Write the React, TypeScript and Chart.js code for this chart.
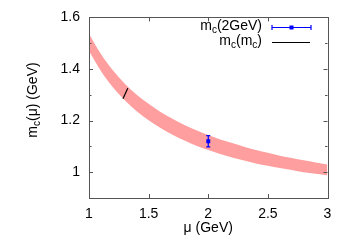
import React, { useEffect, useRef } from 'react';
import { Chart, registerables } from 'chart.js';

Chart.register(...registerables);

// ---- data ----
const muGrid = [1.0, 1.1, 1.2, 1.3, 1.4, 1.5, 1.6, 1.7, 1.8, 1.9, 2.0, 2.1, 2.2, 2.3, 2.4, 2.5, 2.6, 2.7, 2.8, 2.9, 3.0];
const bandUpper = [1.536, 1.458, 1.395, 1.343, 1.300, 1.265, 1.233, 1.207, 1.183, 1.163, 1.144, 1.127, 1.113, 1.099, 1.086, 1.075, 1.064, 1.055, 1.046, 1.038, 1.030];
const bandLower = [1.470, 1.392, 1.329, 1.279, 1.236, 1.201, 1.171, 1.145, 1.123, 1.103, 1.086, 1.071, 1.057, 1.045, 1.034, 1.025, 1.016, 1.009, 1.000, 0.994, 0.988];
const mc2GeVMu = [2.0];
const mc2GeVValue = [1.12];
const mc2GeVErr = [0.022];
const mcmcMu = [1.285, 1.325];
const mcmcValue = [1.285, 1.325];
const xTicks = [1, 1.5, 2, 2.5, 3];
const yMajorTicks = [1, 1.2, 1.4, 1.6];
const yMinorTicks = [1.1, 1.3, 1.5];
const legendLabels = [
  [['m', false], ['c', true], ['(2GeV)', false]],
  [['m', false], ['c', true], ['(m', false], ['c', true], [')', false]],
] as [string, boolean][][];
const xTitle = [['μ (GeV)', false]] as [string, boolean][];
const yTitle = [['m', false], ['c', true], ['(μ) (GeV)', false]] as [string, boolean][];

const FAMILY = '"Liberation Sans", Arial, sans-serif';
const MAIN_FONT = `14px ${FAMILY}`;
const SUB_FONT = `10px ${FAMILY}`;
const BAND_COLOR = 'rgb(255,158,158)';
const BLUE = 'rgb(0,0,255)';
const FRAME = '#555';

function richWidth(ctx: CanvasRenderingContext2D, parts: [string, boolean][]) {
  let w = 0;
  for (const [t, sub] of parts) {
    ctx.font = sub ? SUB_FONT : MAIN_FONT;
    w += ctx.measureText(t).width;
  }
  return w;
}

function drawRich(ctx: CanvasRenderingContext2D, parts: [string, boolean][], x: number, y: number, align: 'left' | 'center' | 'right') {
  const w = richWidth(ctx, parts);
  let cx = align === 'left' ? x : align === 'center' ? x - w / 2 : x - w;
  ctx.textAlign = 'left';
  ctx.textBaseline = 'middle';
  ctx.fillStyle = '#000';
  for (const [t, sub] of parts) {
    ctx.font = sub ? SUB_FONT : MAIN_FONT;
    ctx.fillText(t, cx, sub ? y + 4 : y);
    cx += ctx.measureText(t).width;
  }
}

const decorPlugin = {
  id: 'decor',
  afterDatasetsDraw(chart: any) {
    const ctx: CanvasRenderingContext2D = chart.ctx;
    const { left, right, top, bottom } = chart.chartArea;
    const xs = chart.scales.x;
    const ys = chart.scales.y;
    ctx.save();
    // frame
    ctx.strokeStyle = FRAME;
    ctx.lineWidth = 1;
    ctx.strokeRect(Math.round(left) + 0.5, Math.round(top) + 0.5, Math.round(right - left), Math.round(bottom - top));
    // ticks (inward, mirrored)
    ctx.beginPath();
    for (const v of xTicks) {
      const px = Math.round(xs.getPixelForValue(v)) + 0.5;
      ctx.moveTo(px, bottom); ctx.lineTo(px, bottom - 4);
      ctx.moveTo(px, top); ctx.lineTo(px, top + 4);
    }
    for (const v of yMajorTicks) {
      const py = Math.round(ys.getPixelForValue(v)) + 0.5;
      ctx.moveTo(left, py); ctx.lineTo(left + 4, py);
      ctx.moveTo(right, py); ctx.lineTo(right - 4, py);
    }
    for (const v of yMinorTicks) {
      const py = Math.round(ys.getPixelForValue(v)) + 0.5;
      ctx.moveTo(left, py); ctx.lineTo(left + 2.5, py);
      ctx.moveTo(right, py); ctx.lineTo(right - 2.5, py);
    }
    ctx.stroke();

    // error bars
    ctx.strokeStyle = BLUE;
    ctx.lineWidth = 1.2;
    ctx.beginPath();
    mc2GeVMu.forEach((m, i) => {
      const px = xs.getPixelForValue(m);
      const y1 = ys.getPixelForValue(mc2GeVValue[i] - mc2GeVErr[i]);
      const y2 = ys.getPixelForValue(mc2GeVValue[i] + mc2GeVErr[i]);
      ctx.moveTo(px, y1); ctx.lineTo(px, y2);
      ctx.moveTo(px - 2, y1); ctx.lineTo(px + 2, y1);
      ctx.moveTo(px - 2, y2); ctx.lineTo(px + 2, y2);
    });
    ctx.stroke();

    // legend
    const textRight = 262;
    const sx1 = 272, sx2 = 311;
    const row1 = 27.5, row2 = 42.5;
    drawRich(ctx, legendLabels[0], textRight, row1 - 1, 'right');
    drawRich(ctx, legendLabels[1], textRight, row2 - 1, 'right');
    ctx.strokeStyle = BLUE;
    ctx.lineWidth = 1.2;
    ctx.beginPath();
    ctx.moveTo(sx1, row1); ctx.lineTo(sx2, row1);
    ctx.moveTo(sx1, row1 - 2.5); ctx.lineTo(sx1, row1 + 2.5);
    ctx.moveTo(sx2, row1 - 2.5); ctx.lineTo(sx2, row1 + 2.5);
    ctx.stroke();
    ctx.fillStyle = BLUE;
    ctx.fillRect((sx1 + sx2) / 2 - 2, row1 - 2, 4, 4);
    ctx.strokeStyle = '#000';
    ctx.lineWidth = 1.2;
    ctx.beginPath();
    ctx.moveTo(sx1, row2); ctx.lineTo(sx2 - 1, row2);
    ctx.stroke();

    // axis titles
    drawRich(ctx, xTitle, (left + right) / 2, 228, 'center');
    ctx.translate(33.5, 100);
    ctx.rotate(-Math.PI / 2);
    drawRich(ctx, yTitle, 0, 0, 'center');
    ctx.restore();
  },
};

export default function App() {
  const ref = useRef<HTMLCanvasElement>(null);
  useEffect(() => {
    if (!ref.current) return;
    const chart = new Chart(ref.current, {
      type: 'line',
      data: {
        datasets: [
          {
            label: 'band upper',
            data: muGrid.map((x, i) => ({ x, y: bandUpper[i] })),
            borderColor: 'rgba(0,0,0,0)',
            borderWidth: 0,
            pointRadius: 0,
            fill: false,
            order: 10,
            cubicInterpolationMode: 'monotone',
          },
          {
            label: 'band lower',
            data: muGrid.map((x, i) => ({ x, y: bandLower[i] })),
            borderColor: 'rgba(0,0,0,0)',
            borderWidth: 0,
            pointRadius: 0,
            backgroundColor: BAND_COLOR,
            fill: '-1',
            order: 9,
            cubicInterpolationMode: 'monotone',
          },
          {
            label: 'mc(mc)',
            data: mcmcMu.map((x, i) => ({ x, y: mcmcValue[i] })),
            borderColor: '#000',
            borderWidth: 1.2,
            pointRadius: 0,
            fill: false,
            order: 1,
          },
          {
            label: 'mc(2GeV)',
            data: mc2GeVMu.map((x, i) => ({ x, y: mc2GeVValue[i] })),
            showLine: false,
            pointStyle: 'rect',
            pointRadius: 2.8,
            backgroundColor: BLUE,
            borderColor: BLUE,
            borderWidth: 0,
            fill: false,
            order: 0,
          },
        ],
      },
      options: {
        animation: false,
        responsive: false,
        devicePixelRatio: 1,
        layout: { padding: { top: 17, right: 22.5, left: 0, bottom: 0 } },
        plugins: { legend: { display: false }, tooltip: { enabled: false } },
        scales: {
          x: {
            type: 'linear',
            min: 1,
            max: 3,
            grid: { display: false, drawTicks: false },
            border: { display: false },
            afterBuildTicks: (s: any) => { s.ticks = xTicks.map((v) => ({ value: v })); },
            afterFit: (s: any) => { s.height = 47; },
            ticks: {
              color: '#000',
              padding: 8,
              maxRotation: 0,
              autoSkip: false,
              font: { family: FAMILY, size: 14 },
              callback: (v: any) => String(v),
            },
          },
          y: {
            type: 'linear',
            min: 0.9,
            max: 1.6,
            grid: { display: false, drawTicks: false },
            border: { display: false },
            afterBuildTicks: (s: any) => { s.ticks = yMajorTicks.map((v) => ({ value: v })); },
            afterFit: (s: any) => { s.width = 89; },
            ticks: {
              color: '#000',
              padding: 9,
              autoSkip: false,
              font: { family: FAMILY, size: 14 },
              callback: (v: any) => String(v),
            },
          },
        },
      },
      plugins: [decorPlugin],
    } as any);
    return () => chart.destroy();
  }, []);
  return (
    <div style={{ position: 'absolute', left: 0, top: 0, width: 350, height: 245, background: '#fff' }}>
      <canvas ref={ref} width={350} height={245} />
    </div>
  );
}
